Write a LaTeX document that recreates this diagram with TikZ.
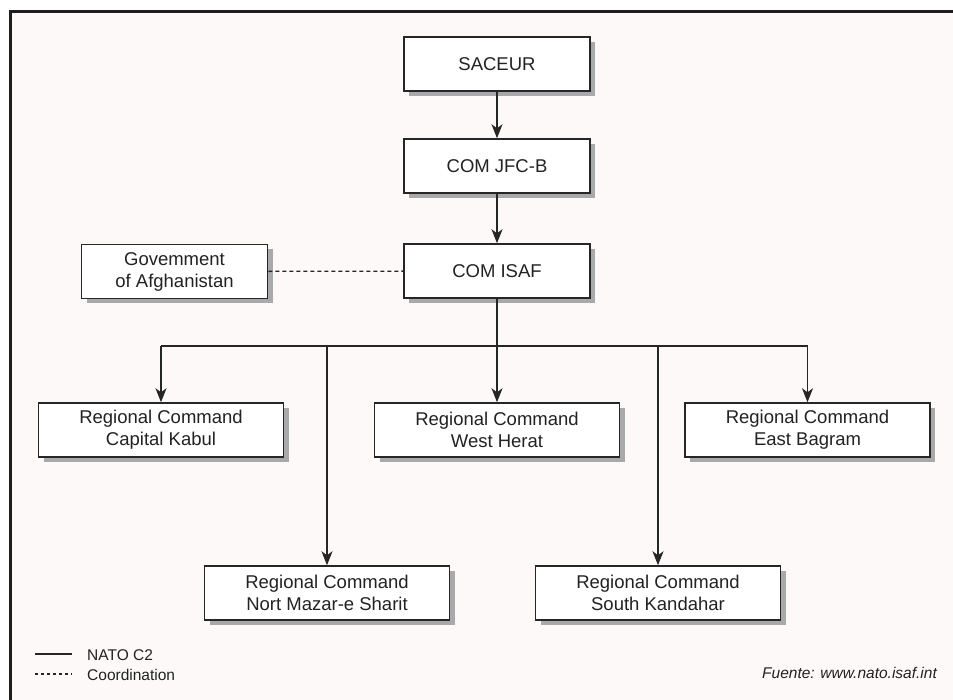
\documentclass[tikz,border=0pt]{standalone}
\usepackage{fontspec}
\setmainfont{Liberation Sans}
\usetikzlibrary{arrows.meta,shadows}
\definecolor{bgpink}{HTML}{FCF9F8}
\definecolor{framec}{HTML}{1E1E1E}
\definecolor{linec}{HTML}{262626}
\definecolor{shadowc}{HTML}{A9A9AB}
\definecolor{textc}{HTML}{222222}
\tikzset{
  box/.style={draw=linec, line width=1.5pt, fill=white, minimum height=54pt,
    align=center, text=textc, inner sep=0pt,
    font=\fontsize{18.5}{22}\selectfont,
    drop shadow={shadow xshift=5pt, shadow yshift=-5pt, opacity=1, fill=shadowc}},
  topbox/.style={box, minimum width=186pt},
  regbox/.style={box, minimum width=245pt},
  conn/.style={draw=linec, line width=1.4pt},
  arr/.style={conn, -{Stealth[length=14pt,width=11pt,inset=4pt]}},
  coord/.style={draw=linec, line width=1.3pt, dash pattern=on 4pt off 3pt},
  legtext/.style={text=textc, font=\fontsize{15.5}{18}\selectfont, inner sep=0pt}
}
\begin{document}
\begin{tikzpicture}[x=1pt,y=-1pt]
\useasboundingbox (0,0) rectangle (953,700);
\fill[white] (0,0) rectangle (953,700);
\fill[bgpink] (9,11) rectangle (953,700);
\draw[framec, line width=3pt] (10,700) -- (10,11.5) -- (953,11.5);

\node[topbox] (saceur) at (497,64) {SACEUR};
\node[topbox] (jfc) at (497,166) {COM JFC-B};
\node[topbox] (isaf) at (497,271) {COM ISAF};
\node[topbox] (gov) at (174.5,271.5) {Govemment\\of Afghanistan};

\node[regbox] (kabul) at (161,430) {Regional Command\\Capital Kabul};
\node[regbox] (herat) at (497,430) {Regional Command\\West Herat};
\node[regbox] (east) at (807.5,430) {Regional Command\\East Bagram};
\node[regbox] (nort) at (327,593) {Regional Command\\Nort Mazar-e Sharit};
\node[regbox] (south) at (658,593) {Regional Command\\South Kandahar};

\draw[arr] (saceur) -- (jfc);
\draw[arr] (jfc) -- (isaf);
\draw[coord] (gov) -- (isaf);

\coordinate (bus) at (497,346);
\draw[arr] (isaf) -- (herat);
\draw[conn] (kabul.north |- bus) -- (east.north |- bus);
\draw[arr] (kabul.north |- bus) -- (kabul.north);
\draw[arr] (nort.north |- bus) -- (nort.north);
\draw[arr] (south.north |- bus) -- (south.north);
\draw[arr] (east.north |- bus) -- (east.north);

\coordinate (l1a) at (35,654);
\coordinate (l1b) at (72,654);
\coordinate (l2a) at (35,674);
\coordinate (l2b) at (72,674);
\draw[conn] (l1a) -- (l1b);
\draw[draw=linec, line width=1.3pt, dash pattern=on 3pt off 3pt] (l2a) -- (l2b);
\node[legtext, anchor=west] (nato) at (87,655) {NATO C2};
\node[legtext, anchor=west] (coordl) at (87,675) {Coordination};
\node[legtext, anchor=east, font=\fontsize{15.5}{18}\selectfont\itshape] (src) at (937,673) {Fuente: www.nato.isaf.int};
\end{tikzpicture}
\end{document}
